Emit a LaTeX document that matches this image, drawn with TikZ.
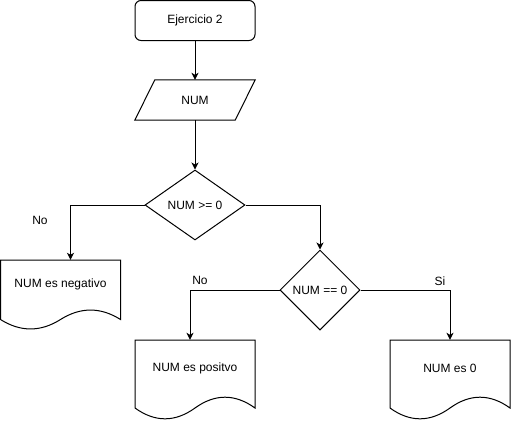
\documentclass[tikz,border=0pt]{standalone}
\usepackage{fontspec}
\setmainfont{Liberation Sans}
\usetikzlibrary{shapes.geometric,arrows.meta,calc}
\tikzset{
  base/.style={font=\fontsize{12}{14}\selectfont, text=black},
  startbox/.style={base, draw, line width=1pt, rounded corners=6pt, minimum width=120, minimum height=40, inner sep=0pt},
  iobox/.style={base, minimum width=120, minimum height=40, inner sep=0pt},
  decision/.style={base, draw, line width=1pt, diamond, inner sep=0pt},
  doctext/.style={base, inner sep=0pt},
  shapeline/.style={draw, line width=1pt, line join=miter},
  conn/.style={line width=1pt, -{Stealth[length=7pt,width=7pt,inset=2pt]}},
  lbl/.style={base, inner sep=0pt}
}
% name, X, Y, w, h, text
\newcommand{\docshape}[6]{%
  \pgfmathsetmacro\mydy{0.3*#5}%
  \node[doctext, minimum width=#4, minimum height={#5-\mydy}] (#1) at ({#2+#4/2},{#3+(#5-\mydy)/2}) {#6};
  \draw[shapeline] (#2,#3) -- ({#2+#4},#3) -- ({#2+#4},{#3+#5-0.5*\mydy})
    .. controls ({#2+5*#4/6},{#3+#5-1.1*\mydy}) and ({#2+2*#4/3},{#3+#5-1.1*\mydy}) .. ({#2+#4/2},{#3+#5-0.5*\mydy})
    .. controls ({#2+#4/3},{#3+#5+0.1*\mydy}) and ({#2+#4/6},{#3+#5+0.1*\mydy}) .. (#2,{#3+#5-0.5*\mydy}) -- cycle;
}
\begin{document}
\begin{tikzpicture}[x=1pt,y=-1pt]
\useasboundingbox (0,0) rectangle (511,421);

\node[startbox] (start) at (195,20.5) {Ejercicio 2};

\node[iobox] (num) at (195,100) {NUM};
\draw[shapeline] ($(num.north west)+(20,0)$) -- (num.north east) -- ($(num.south east)+(-20,0)$) -- (num.south west) -- cycle;

\node[decision, minimum width=100, minimum height=70] (d1) at (195,205) {NUM >= 0};
\node[decision, minimum width=80, minimum height=80] (d2) at (320,290) {NUM == 0};

\docshape{neg}{0.5}{260}{120}{70}{NUM es negativo}
\docshape{pos}{135}{340}{120}{80}{NUM es positvo}
\docshape{zero}{390}{340}{120}{80}{NUM es 0}

\coordinate (negin) at ($(neg.north)+(10,0)$);
\coordinate (posin) at ($(pos.north)+(-5,0)$);

\draw[conn] (start.south) -- (num.north);
\draw[conn] (num.south) -- (d1.north);
\draw[conn] (d1.west) -| (negin);
\draw[conn] (d1.east) -| (d2.north);
\draw[conn] (d2.west) -| (posin);
\draw[conn] (d2.east) -| (zero.north);

\node[lbl] (l1) at (40,220) {No};
\node[lbl] (l2) at (200,280) {No};
\node[lbl] (l3) at (440,281) {Si};
\end{tikzpicture}
\end{document}
